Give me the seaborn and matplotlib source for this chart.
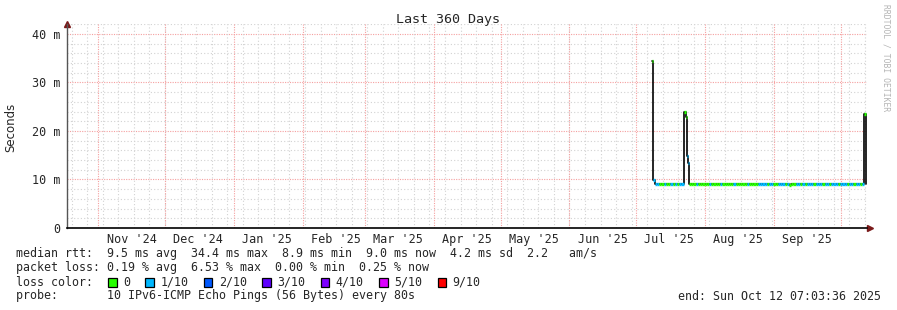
import matplotlib
matplotlib.use("Agg")
import matplotlib.pyplot as plt
import seaborn as sns
import pandas as pd
from matplotlib.patches import Rectangle

# ---------------- data ----------------
spike1_time = ["2025-07-08 04:00", "2025-07-08 10:00", "2025-07-08 19:00"]
spike1_ms = [34.4, 19.2, 9.9]
spike1_loss = [0, 1, 1]

flat1_start = "2025-07-09 10:00"
flat1_ms = [9.0, 9.0, 9.0, 9.0, 9.0, 9.0, 9.0, 9.0, 9.0, 9.0, 9.0, 9.0, 9.0]
flat1_loss = [1, 1, 0, 0, 1, 0, 0, 1, 0, 1, 0, 1, 1]

spike2_time = ["2025-07-22 14:00", "2025-07-23 06:00", "2025-07-24 02:00", "2025-07-24 08:00"]
spike2_ms = [24.0, 22.9, 14.9, 13.5]
spike2_loss = [0, 0, 1, 1]

flat2_start = "2025-07-24 20:00"
flat2_ms = [9.0, 9.0, 9.0, 9.0, 9.0, 9.0, 9.0,
            9.0, 9.0, 9.0, 9.0, 9.0, 9.0, 9.0, 9.0, 9.0, 9.0,
            9.0, 9.0, 9.0, 9.0, 9.0, 9.0, 9.0, 9.0, 9.0, 9.0,
            9.0, 9.0, 9.0, 9.0, 9.0, 9.0, 9.0, 9.0,
            9.0, 9.0, 9.0, 9.0, 9.0, 9.0, 9.0, 9.0, 9.0, 9.0,
            8.9, 9.0, 9.0, 9.0, 9.0, 9.0, 9.0, 9.0, 9.0, 9.0,
            9.0, 9.0, 9.0, 9.0, 9.0, 9.0, 9.0, 9.0, 9.0, 9.0,
            9.0, 9.0, 9.0, 9.0, 9.0, 9.0, 9.0, 9.0, 9.0, 9.0,
            9.0, 9.0, 9.0, 9.0]
flat2_loss = [0, 0, 0, 1, 0, 0, 0,
              0, 0, 1, 0, 0, 0, 0, 1, 0, 0,
              0, 0, 0, 1, 0, 0, 0, 0, 0, 1,
              0, 0, 0, 0, 1, 1, 1, 1,
              0, 1, 1, 0, 0, 1, 1, 1, 0, 1,
              0, 0, 0, 1, 1, 0, 1, 0, 1, 1,
              1, 0, 1, 1, 1, 0, 1, 1, 0, 1,
              1, 1, 0, 1, 1, 1, 0, 1, 1, 0,
              1, 1, 0, 1]

spike3_time = ["2025-10-11 12:00", "2025-10-12 06:00"]
spike3_ms = [23.5, 9.0]
spike3_loss = [0, 1]

month_labels = ["Nov '24", "Dec '24", "Jan '25", "Feb '25", "Mar '25", "Apr '25",
                "May '25", "Jun '25", "Jul '25", "Aug '25", "Sep '25"]
ytick_vals = [0, 10, 20, 30, 40]
ytick_labels = ["0", "10 m", "20 m", "30 m", "40 m"]

loss_names = ["0", "1/10", "2/10", "3/10", "4/10", "5/10", "9/10"]
loss_colors = ["#26ff00", "#00b8ff", "#0059ff", "#5e00ff", "#7e00ff", "#dd00ff", "#ff0000"]

stats_lines = [
    "median rtt:  9.5 ms avg  34.4 ms max  8.9 ms min  9.0 ms now  4.2 ms sd  2.2   am/s",
    "packet loss: 0.19 % avg  6.53 % max  0.00 % min  0.25 % now",
]
probe_line = "probe:       10 IPv6-ICMP Echo Pings (56 Bytes) every 80s"
end_line = "end: Sun Oct 12 07:03:36 2025"

# ---------------- assemble the series ----------------
t = (list(pd.to_datetime(spike1_time))
     + list(pd.date_range(flat1_start, periods=len(flat1_ms), freq="D"))
     + list(pd.to_datetime(spike2_time))
     + list(pd.date_range(flat2_start, periods=len(flat2_ms), freq="D"))
     + list(pd.to_datetime(spike3_time)))
v = spike1_ms + flat1_ms + spike2_ms + flat2_ms + spike3_ms
loss = spike1_loss + flat1_loss + spike2_loss + flat2_loss + spike3_loss
df = pd.DataFrame({"time": t, "ms": v, "loss": loss})

# ---------------- figure ----------------
sns.set_style("white")
mono = "DejaVu Sans Mono"
plt.rcParams["font.family"] = ["DejaVu Sans Mono", "DejaVu Sans"]

W, H = 897, 310
fig = plt.figure(figsize=(W / 100, H / 100), dpi=100)
fig.patch.set_facecolor("white")
ax = fig.add_axes([67 / W, 1 - 228 / H, 800 / W, 204 / H])
ax.set_facecolor("white")

x_start = pd.Timestamp("2024-10-17 22:00")
x_end = x_start + pd.Timedelta(days=360)
ax.set_xlim(x_start, x_end)
ax.set_ylim(0, 42.06)

# grid
grey = "#d2d2d2"
pink = "#f5a0a0"
for y in range(2, 43, 2):
    if y % 10:
        ax.axhline(y, color=grey, lw=0.8, ls=(0, (1, 2)), zorder=0)
for y in [10, 20, 30, 40]:
    ax.axhline(y, color=pink, lw=0.8, ls=(0, (1, 1.2)), zorder=0)
for d in pd.date_range("2024-10-20", x_end, freq="7D"):
    ax.axvline(d, color=grey, lw=0.8, ls=(0, (1, 2)), zorder=0)
for d in pd.date_range("2024-11-01", x_end, freq="MS"):
    ax.axvline(d, color=pink, lw=0.8, ls=(0, (1, 1.2)), zorder=0)

# median line (black steps) + loss-coloured segments
sns.lineplot(data=df, x="time", y="ms", ax=ax, color="black", lw=1.2,
             drawstyle="steps-post", estimator=None, sort=True, zorder=3)
for i in range(len(df) - 1):
    ax.hlines(df["ms"][i], df["time"][i], df["time"][i + 1],
              color=loss_colors[df["loss"][i]], lw=2.4, zorder=4)

# axes styling
for s in ["top", "right"]:
    ax.spines[s].set_visible(False)
ax.spines["left"].set_color("#555555")
ax.spines["bottom"].set_color("black")
ax.spines["left"].set_linewidth(1.0)
ax.spines["bottom"].set_linewidth(1.2)

mid_months = pd.date_range("2024-11-01", periods=len(month_labels), freq="MS") + pd.Timedelta(days=15)
ax.set_xticks(mid_months)
ax.set_xticklabels(month_labels, fontsize=8.5, family=mono)
ax.set_yticks(ytick_vals)
ax.set_yticklabels(ytick_labels, fontsize=8.5, family=mono)
ax.tick_params(axis="x", length=0, pad=3.5)
ax.tick_params(axis="y", length=0, pad=5)
ax.set_xlabel("")
ax.set_ylabel("")

# arrows
ax.plot([0], [1.0], marker="^", color="#7a1a1a", ms=4, transform=ax.transAxes, clip_on=False)
ax.plot([1.004], [0], marker=">", color="#7a1a1a", ms=4, transform=ax.transAxes, clip_on=False)

# texts
def fx(px):
    return px / W

def fy(py):
    return 1 - py / H

fig.text(fx(448), fy(19), "Last 360 Days", ha="center", va="center", fontsize=9.6, family=mono)
fig.text(fx(11), fy(127), "Seconds", rotation=90, ha="center", va="center", fontsize=8.5,
         family="DejaVu Sans")
fig.text(fx(886), fy(4), "RRDTOOL / TOBI OETIKER", rotation=270, ha="center", va="top",
         fontsize=5.8, family=mono, color="#b4b4b4")

fig.text(fx(16), fy(254), stats_lines[0], ha="left", va="center", fontsize=8.4, family=mono)
fig.text(fx(16), fy(268), stats_lines[1], ha="left", va="center", fontsize=8.4, family=mono)
fig.text(fx(16), fy(282), "loss color:", ha="left", va="center", fontsize=8.4, family=mono)
box_x = 108
for name, col in zip(loss_names, loss_colors):
    fig.patches.append(Rectangle((fx(box_x), fy(286.5)), 8.5 / W, 8.5 / H, transform=fig.transFigure,
                                 facecolor=col, edgecolor="black", lw=0.9))
    fig.text(fx(box_x + 15), fy(282), name, ha="left", va="center", fontsize=8.4, family=mono)
    box_x += 15 + 7.08 * (len(name) + 2) + 1
fig.text(fx(16), fy(296), probe_line, ha="left", va="center", fontsize=8.4, family=mono)
fig.text(fx(881), fy(296), end_line, ha="right", va="center", fontsize=8.4, family=mono)

fig.savefig("out.png", dpi=100, facecolor="white")
